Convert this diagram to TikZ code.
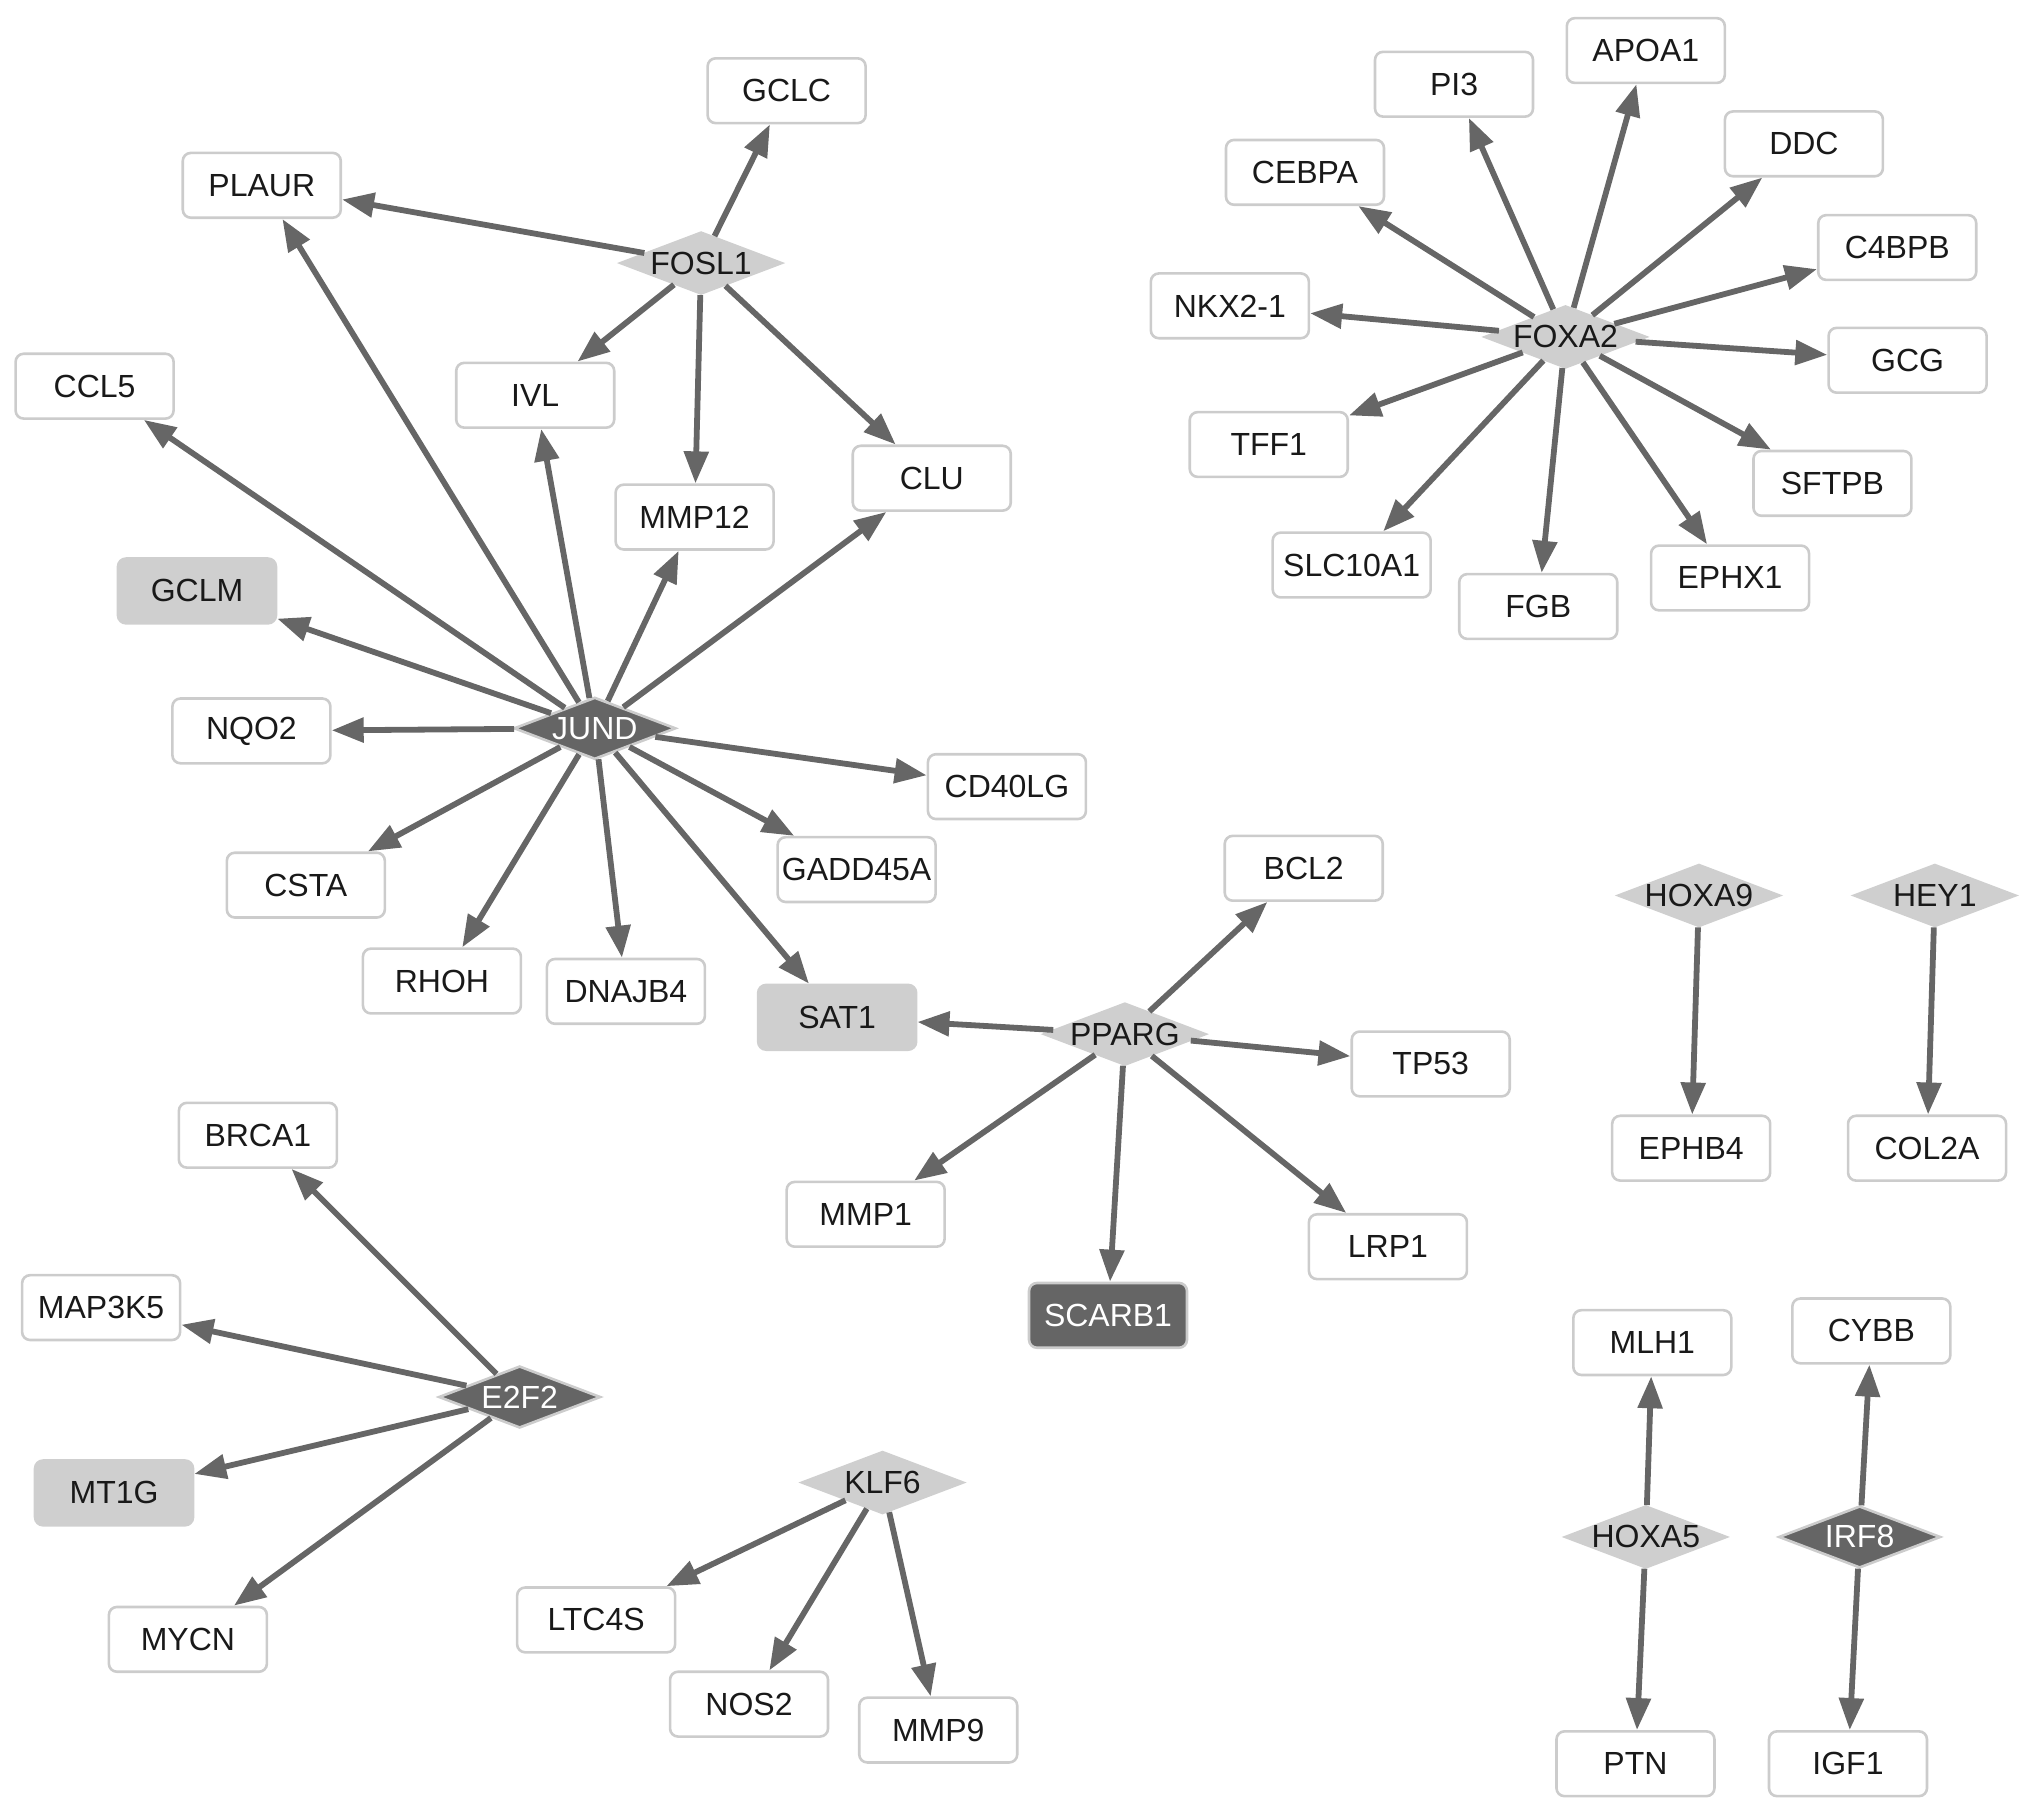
\documentclass[tikz,border=0pt]{standalone}
\usepackage{fontspec}
\setmainfont{Liberation Sans}
\usetikzlibrary{shapes.geometric,arrows.meta}
\definecolor{edgec}{HTML}{666666}
\definecolor{boxb}{HTML}{CCCCCC}
\definecolor{lgray}{HTML}{CFCFCF}
\definecolor{dgray}{HTML}{656565}
\begin{document}
\begin{tikzpicture}[x=0.648pt,y=-0.648pt,
 gene/.style={draw=boxb, line width=1.3pt, rounded corners=4pt, fill=white, minimum width=79pt, minimum height=32.4pt, inner sep=0pt, font=\fontsize{16}{18}\selectfont, text=black!90},
 genegray/.style={gene, fill=lgray, draw=lgray},
 genedark/.style={gene, fill=dgray, draw=boxb, text=white},
 tf/.style={diamond, draw=lgray, fill=lgray, line width=1.3pt, minimum width=81pt, minimum height=31pt, inner sep=0pt},
 tfdark/.style={tf, fill=dgray, draw=boxb},
 tflab/.style={font=\fontsize{16}{18}\selectfont, inner sep=0pt, text=black!90},
 tfdlab/.style={tflab, text=white},
 arr/.style={draw=edgec, line width=2.9pt, -{Triangle[length=16pt,width=12pt]}}
]
\useasboundingbox (0,0) rectangle (1568,1400.6);
% FOSL1 / JUND cluster
\node[tf,label={[tflab]center:FOSL1}] (fosl1) at (541,203) {};
\node[gene] (gclc) at (607,70) {GCLC};
\node[gene] (plaur) at (202,143) {PLAUR};
\node[gene] (ivl) at (413,305) {IVL};
\node[gene] (mmp12) at (536,399) {MMP12};
\node[gene] (clu) at (719,369) {CLU};
\node[gene] (ccl5) at (73,298) {CCL5};
\node[genegray] (gclm) at (152,456) {GCLM};
\node[tfdark,label={[tfdlab]center:JUND}] (jund) at (459,562) {};
\node[gene] (nqo2) at (194,564) {NQO2};
\node[gene] (cd40lg) at (777,607) {CD40LG};
\node[gene] (csta) at (236,683) {CSTA};
\node[gene] (gadd) at (661,671) {GADD45A};
\node[gene] (rhoh) at (341,757) {RHOH};
\node[gene] (dnajb4) at (483,765) {DNAJB4};
\node[genegray] (sat1) at (646,785) {SAT1};
% PPARG
\node[tf,label={[tflab]center:PPARG}] (pparg) at (868,798) {};
\node[gene] (bcl2) at (1006,670) {BCL2};
\node[gene] (tp53) at (1104,821) {TP53};
\node[gene] (mmp1) at (668,937) {MMP1};
\node[gene] (lrp1) at (1071,962) {LRP1};
\node[genedark] (scarb1) at (855,1015) {SCARB1};
% E2F2
\node[tfdark,label={[tfdlab]center:E2F2}] (e2f2) at (401,1078) {};
\node[gene] (brca1) at (199,876) {BRCA1};
\node[gene] (map3k5) at (78,1009) {MAP3K5};
\node[genegray] (mt1g) at (88,1152) {MT1G};
\node[gene] (mycn) at (145,1265) {MYCN};
% KLF6
\node[tf,label={[tflab]center:KLF6}] (klf6) at (681,1144) {};
\node[gene] (ltc4s) at (460,1250) {LTC4S};
\node[gene] (nos2) at (578,1315) {NOS2};
\node[gene] (mmp9) at (724,1335) {MMP9};
% FOXA2
\node[tf,label={[tflab]center:FOXA2}] (foxa2) at (1208,260) {};
\node[gene] (apoa1) at (1270,39) {APOA1};
\node[gene] (pi3) at (1122,65) {PI3};
\node[gene] (ddc) at (1392,111) {DDC};
\node[gene] (cebpa) at (1007,133) {CEBPA};
\node[gene] (c4bpb) at (1464,191) {C4BPB};
\node[gene] (nkx) at (949,236) {NKX2-1};
\node[gene] (gcg) at (1472,278) {GCG};
\node[gene] (tff1) at (979,343) {TFF1};
\node[gene] (sftpb) at (1414,373) {SFTPB};
\node[gene] (slc) at (1043,436) {SLC10A1};
\node[gene] (ephx1) at (1335,446) {EPHX1};
\node[gene] (fgb) at (1187,468) {FGB};
% small pairs
\node[tf,label={[tflab]center:HOXA9}] (hoxa9) at (1311,691) {};
\node[gene] (ephb4) at (1305,886) {EPHB4};
\node[tf,label={[tflab]center:HEY1}] (hey1) at (1493,691) {};
\node[gene] (col2a) at (1487,886) {COL2A};
\node[gene] (mlh1) at (1275,1036) {MLH1};
\node[tf,label={[tflab]center:HOXA5}] (hoxa5) at (1270,1186) {};
\node[gene] (ptn) at (1262,1361) {PTN};
\node[gene] (cybb) at (1444,1027) {CYBB};
\node[tfdark,label={[tfdlab]center:IRF8}] (irf8) at (1435,1186) {};
\node[gene] (igf1) at (1426,1361) {IGF1};
% edges
\foreach \t in {gclc,plaur,ivl,mmp12,clu} \draw[arr] (fosl1) -- (\t);
\foreach \t in {plaur,ccl5,ivl,mmp12,clu,gclm,nqo2,cd40lg,csta,gadd,rhoh,dnajb4,sat1} \draw[arr] (jund) -- (\t);
\foreach \t in {sat1,bcl2,tp53,mmp1,lrp1,scarb1} \draw[arr] (pparg) -- (\t);
\foreach \t in {brca1,map3k5,mt1g,mycn} \draw[arr] (e2f2) -- (\t);
\foreach \t in {ltc4s,nos2,mmp9} \draw[arr] (klf6) -- (\t);
\foreach \t in {apoa1,pi3,ddc,cebpa,c4bpb,nkx,gcg,tff1,sftpb,slc,ephx1,fgb} \draw[arr] (foxa2) -- (\t);
\draw[arr] (hoxa9) -- (ephb4);
\draw[arr] (hey1) -- (col2a);
\draw[arr] (hoxa5) -- (mlh1);
\draw[arr] (hoxa5) -- (ptn);
\draw[arr] (irf8) -- (cybb);
\draw[arr] (irf8) -- (igf1);
\end{tikzpicture}
\end{document}
